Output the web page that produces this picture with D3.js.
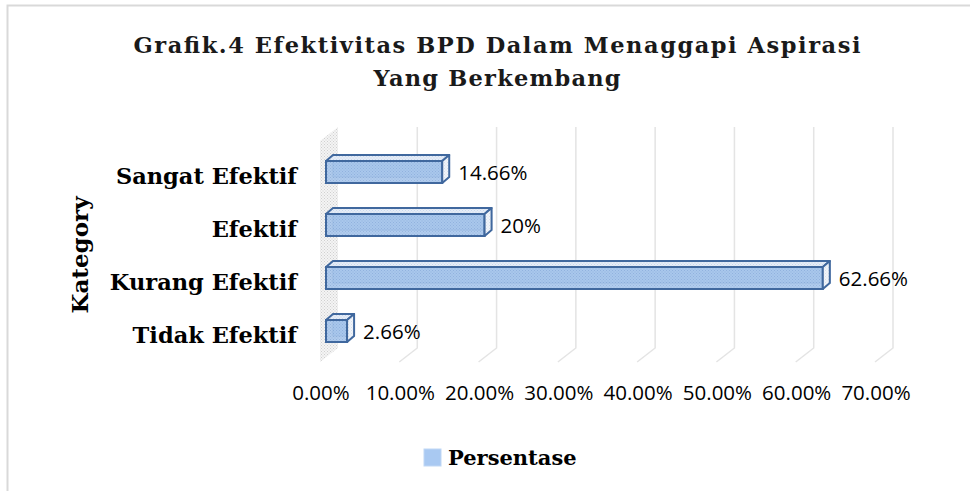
<!DOCTYPE html>
<html>
<head>
<meta charset="utf-8">
<script src="https://cdn.jsdelivr.net/npm/d3@7"></script>
<style>
  html, body { margin: 0; padding: 0; background: #fff; }
  svg { display: block; }
</style>
</head>
<body>
<div id="chart"></div>
<script>
// data
const categories = ["Sangat Efektif", "Efektif", "Kurang Efektif", "Tidak Efektif"];
const values = [14.66, 20, 62.66, 2.66];
const valueLabels = ["14.66%", "20%", "62.66%", "2.66%"];
const tickValues = [0, 10, 20, 30, 40, 50, 60, 70];
const tickLabels = ["0.00%", "10.00%", "20.00%", "30.00%", "40.00%", "50.00%", "60.00%", "70.00%"];
const titleLines = ["Grafik.4 Efektivitas BPD Dalam Menaggapi Aspirasi", "Yang Berkembang"];
const axisTitle = "Kategory";
const seriesName = "Persentase";

function buildChart() {
    const W = 970, H = 491;
    const serif = "'DejaVu Serif', serif";
    const sans = "'Open Sans', sans-serif";

    const svg = d3.select("#chart")
        .append("svg")
        .attr("width", W)
        .attr("height", H);

    const defs = svg.append("defs");

    // dotted textures like the excel fills
    function dotPattern(id, bg, dot) {
        const p = defs.append("pattern")
            .attr("id", id)
            .attr("width", 3)
            .attr("height", 3)
            .attr("patternUnits", "userSpaceOnUse");
        p.append("rect").attr("width", 3).attr("height", 3).attr("fill", bg);
        p.append("rect").attr("width", 1).attr("height", 1).attr("fill", dot);
        p.append("rect").attr("x", 1.5).attr("y", 1.5).attr("width", 1).attr("height", 1).attr("fill", dot);
    }
    dotPattern("wallFill", "#f4f4f4", "#d0d0d0");
    dotPattern("frontFill", "#a9c7ec", "#8eb0dc");
    dotPattern("topFill", "#e6edf7", "#c9d8ee");
    dotPattern("endFill", "#f1f4f9", "#d6e0ee");

    // chart border
    svg.append("rect")
        .attr("x", 7.5)
        .attr("y", 5.5)
        .attr("width", 1000)
        .attr("height", 1000)
        .attr("fill", "none")
        .attr("stroke", "#d9d9d9")
        .attr("stroke-width", 2);

    // SCALES
    // x: front face of the bars
    const x = d3.scaleLinear()
        .domain([0, 70])
        .range([326, 881]);

    // y: centre of each bar's front face
    const y = d3.scalePoint()
        .domain(categories)
        .range([145.5, 357.5])
        .padding(0.5);

    // 3d offsets
    const floorFrontY = 362, floorBackY = 348, wallTopBack = 127;
    const floorFrontDx = -6, floorBackDx = 12;
    const barDx = 7, barDy = 6, barH = 22;

    // side wall
    const wx0 = x(0);
    svg.append("path")
        .attr("d", `M${wx0 + floorBackDx},${wallTopBack} L${wx0 + floorBackDx},${floorBackY} L${wx0 + floorFrontDx},${floorFrontY} L${wx0 + floorFrontDx},${wallTopBack + (floorFrontY - floorBackY)} Z`)
        .attr("fill", "url(#wallFill)");

    // grid lines on back wall + floor
    svg.append("g")
        .selectAll("path")
        .data(tickValues.slice(1))
        .enter()
        .append("path")
        .attr("d", d => `M${x(d) + floorBackDx},${wallTopBack} L${x(d) + floorBackDx},${floorBackY} L${x(d) + floorFrontDx},${floorFrontY}`)
        .attr("fill", "none")
        .attr("stroke", "#e4e4e4")
        .attr("stroke-width", 1.5);

    // tick labels
    svg.append("g")
        .selectAll("text")
        .data(tickValues)
        .enter()
        .append("text")
        .attr("x", d => x(d) - 5)
        .attr("y", 400)
        .attr("text-anchor", "middle")
        .attr("font-family", sans)
        .attr("font-size", 20.5)
        .attr("fill", "#000")
        .text((d, i) => tickLabels[i]);

    // BARS
    const stroke = "#40689e";
    const bars = svg.append("g")
        .selectAll("g")
        .data(categories.map((c, i) => ({ cat: c, value: values[i], label: valueLabels[i] })))
        .enter()
        .append("g");

    // back face (seen through)
    bars.append("rect")
        .attr("x", d => x(0) + barDx)
        .attr("y", d => y(d.cat) - barH / 2 - barDy)
        .attr("width", d => x(d.value) - x(0))
        .attr("height", barH)
        .attr("fill", "#a9c7ec")
        .attr("stroke", stroke)
        .attr("stroke-width", 1);

    // front face
    bars.append("rect")
        .attr("x", x(0))
        .attr("y", d => y(d.cat) - barH / 2)
        .attr("width", d => x(d.value) - x(0))
        .attr("height", barH)
        .attr("fill", "url(#frontFill)")
        .attr("fill-opacity", 0.9)
        .attr("stroke", stroke)
        .attr("stroke-width", 2);

    // top face
    bars.append("path")
        .attr("d", d => {
            const x0 = x(0), x1 = x(d.value), t = y(d.cat) - barH / 2;
            return `M${x0},${t} L${x0 + barDx},${t - barDy} L${x1 + barDx},${t - barDy} L${x1},${t} Z`;
        })
        .attr("fill", "url(#topFill)")
        .attr("stroke", stroke)
        .attr("stroke-width", 2)
        .attr("stroke-linejoin", "round");

    // end face
    bars.append("path")
        .attr("d", d => {
            const x1 = x(d.value), t = y(d.cat) - barH / 2, b = y(d.cat) + barH / 2;
            return `M${x1},${t} L${x1 + barDx},${t - barDy} L${x1 + barDx},${b - barDy} L${x1},${b} Z`;
        })
        .attr("fill", "url(#endFill)")
        .attr("stroke", stroke)
        .attr("stroke-width", 2)
        .attr("stroke-linejoin", "round");

    // value labels
    bars.append("text")
        .attr("x", d => x(d.value) + barDx + 9)
        .attr("y", d => y(d.cat) + 8)
        .attr("font-family", sans)
        .attr("font-size", 20.5)
        .attr("fill", "#000")
        .text(d => d.label);

    // category labels
    svg.append("g")
        .selectAll("text")
        .data(categories)
        .enter()
        .append("text")
        .attr("x", 297)
        .attr("y", d => y(d) + 12)
        .attr("text-anchor", "end")
        .attr("font-family", serif)
        .attr("font-weight", "bold")
        .attr("font-size", 22.5)
        .attr("fill", "#000")
        .text(d => d);

    // axis title
    svg.append("text")
        .attr("transform", "translate(88,255) rotate(-90)")
        .attr("text-anchor", "middle")
        .attr("font-family", serif)
        .attr("font-weight", "bold")
        .attr("font-size", 23)
        .attr("fill", "#000")
        .text(axisTitle);

    // title
    const titleWidths = [727, 247];
    svg.append("g")
        .selectAll("text")
        .data(titleLines)
        .enter()
        .append("text")
        .attr("x", 497)
        .attr("y", (d, i) => 53 + i * 33)
        .attr("text-anchor", "middle")
        .attr("font-family", serif)
        .attr("font-weight", "bold")
        .attr("font-size", 22.5)
        .attr("fill", "#1a1a1a")
        .attr("textLength", (d, i) => titleWidths[i])
        .attr("lengthAdjust", "spacing")
        .text(d => d);

    // legend
    const legend = svg.append("g").attr("transform", "translate(424,449)");
    legend.append("rect")
        .attr("width", 17)
        .attr("height", 17)
        .attr("fill", "#a9c9f2")
        .attr("stroke", "#c0d7f5")
        .attr("stroke-width", 1);
    legend.append("text")
        .attr("x", 24)
        .attr("y", 16)
        .attr("font-family", serif)
        .attr("font-weight", "bold")
        .attr("font-size", 21)
        .attr("fill", "#000")
        .text(seriesName);
}

buildChart();
</script>
</body>
</html>
